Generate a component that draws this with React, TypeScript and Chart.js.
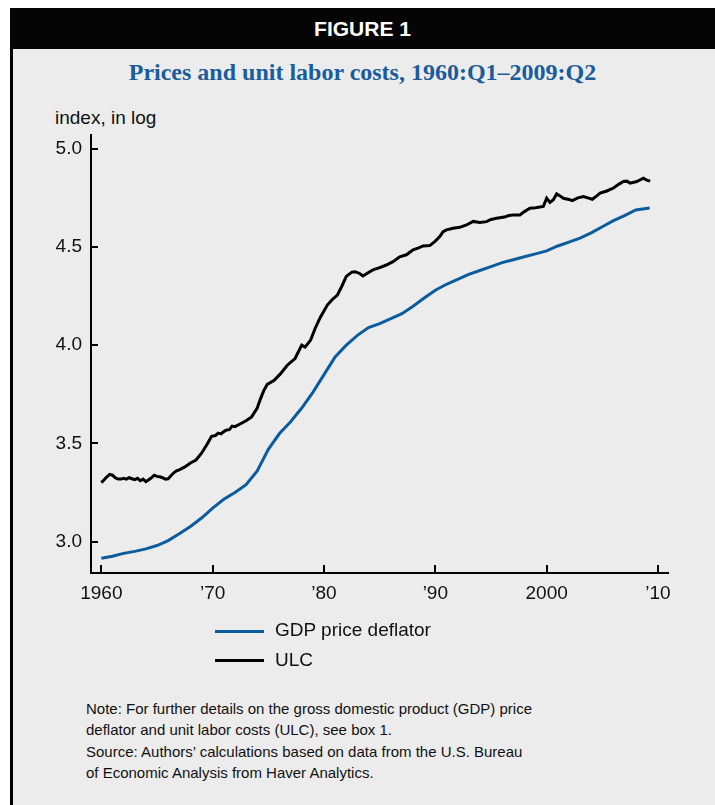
import React, { useEffect, useRef } from "react";
import { Chart, registerables } from "chart.js";

Chart.register(...registerables);

// ---- data ----
const gdpYears = [
  1960, 1961, 1962, 1963, 1964, 1965, 1966, 1967, 1968, 1969,
  1970, 1971, 1972, 1973, 1974, 1975, 1976, 1977, 1978, 1979,
  1980, 1981, 1982, 1983, 1984, 1985, 1986, 1987, 1988, 1989,
  1990, 1991, 1992, 1993, 1994, 1995, 1996, 1997, 1998, 1999,
  2000, 2001, 2002, 2003, 2004, 2005, 2006, 2007, 2008, 2009.25,
];
const gdpValues = [
  2.915, 2.925, 2.94, 2.95, 2.963, 2.98, 3.005, 3.04, 3.077, 3.12,
  3.17, 3.215, 3.25, 3.29, 3.36, 3.47, 3.55, 3.61, 3.68, 3.76,
  3.85, 3.94, 4.0, 4.05, 4.09, 4.11, 4.135, 4.16, 4.198, 4.24,
  4.28, 4.31, 4.335, 4.36, 4.38, 4.4, 4.42, 4.435, 4.45, 4.465,
  4.48, 4.505, 4.525, 4.545, 4.572, 4.603, 4.634, 4.66, 4.688, 4.698,
];

const ulcYears = [
  1960.0, 1960.25, 1960.5, 1960.75, 1961.0, 1961.25, 1961.5, 1961.75, 1962.0, 1962.25,
  1962.5, 1962.75, 1963.0, 1963.25, 1963.5, 1963.75, 1964.0, 1964.25, 1964.5, 1964.75,
  1965.0, 1965.25, 1965.5, 1965.75, 1966.0, 1966.25, 1966.5, 1966.75, 1967.0, 1967.5,
  1968.0, 1968.5, 1969.0, 1969.5, 1969.9, 1970.25, 1970.5, 1970.75, 1971.0, 1971.25,
  1971.5, 1971.75, 1972.0, 1972.5, 1973.0, 1973.5, 1974.0, 1974.3, 1974.6, 1974.9,
  1975.5, 1976.1, 1976.7, 1977.4, 1978.0, 1978.3, 1978.8, 1979.2, 1979.7, 1980.3,
  1980.7, 1981.2, 1981.6, 1982.0, 1982.5, 1982.8, 1983.2, 1983.5, 1984.0, 1984.4,
  1985.0, 1985.6, 1986.2, 1986.8, 1987.4, 1988.0, 1988.5, 1988.9, 1989.5, 1990.0,
  1990.4, 1990.7, 1991.0, 1991.6, 1992.2, 1992.8, 1993.4, 1994.0, 1994.6, 1995.0,
  1995.5, 1996.2, 1996.6, 1997.0, 1997.6, 1998.0, 1998.5, 1999.0, 1999.7, 2000.0,
  2000.3, 2000.6, 2000.9, 2001.2, 2001.5, 2002.0, 2002.3, 2002.8, 2003.3, 2003.7,
  2004.1, 2004.5, 2004.8, 2005.4, 2006.0, 2006.5, 2006.9, 2007.2, 2007.5, 2008.1,
  2008.4, 2008.7, 2009.0, 2009.3,
];
const ulcValues = [
  3.3, 3.315, 3.33, 3.342, 3.338, 3.325, 3.318, 3.318, 3.322, 3.318,
  3.325, 3.32, 3.315, 3.322, 3.31, 3.318, 3.305, 3.315, 3.325, 3.338,
  3.332, 3.33, 3.325, 3.318, 3.32, 3.335, 3.35, 3.36, 3.365, 3.38,
  3.4, 3.415, 3.45, 3.495, 3.536, 3.54, 3.552, 3.548, 3.56, 3.568,
  3.57, 3.588, 3.585, 3.6, 3.615, 3.635, 3.68, 3.728, 3.77, 3.8,
  3.82, 3.855, 3.898, 3.932, 4.0, 3.99, 4.026, 4.085, 4.145, 4.204,
  4.23, 4.255, 4.3, 4.35, 4.372, 4.374, 4.365, 4.352, 4.37, 4.383,
  4.395, 4.408, 4.425, 4.45, 4.46, 4.485, 4.495, 4.505, 4.507, 4.53,
  4.553, 4.578, 4.587, 4.595, 4.6, 4.612, 4.63, 4.625, 4.629, 4.64,
  4.646, 4.652, 4.66, 4.663, 4.663, 4.68, 4.697, 4.7, 4.706, 4.748,
  4.727, 4.74, 4.77, 4.76, 4.748, 4.742, 4.736, 4.75, 4.757, 4.75,
  4.743, 4.76, 4.774, 4.785, 4.8, 4.82, 4.833, 4.835, 4.825, 4.833,
  4.842, 4.85, 4.84, 4.835,
];

const xTickValues = [1960, 1970, 1980, 1990, 2000, 2010];
const xTickLabels = ["1960", "\u201970", "\u201980", "\u201990", "2000", "\u201910"];
const yTickValues = [3.0, 3.5, 4.0, 4.5, 5.0];
const yTickLabels = ["3.0", "3.5", "4.0", "4.5", "5.0"];
const seriesLabels = ["GDP price deflator", "ULC"];
const seriesColors = ["#0b5c9e", "#000000"];

const SANS = '"Liberation Sans", Arial, Helvetica, sans-serif';
const SERIF = '"Liberation Serif", "Times New Roman", serif';

const innerTicks = {
  id: "innerTicks",
  afterDraw(chart: any) {
    const { ctx, chartArea, scales } = chart;
    ctx.save();
    ctx.strokeStyle = "#000";
    ctx.lineWidth = 2;
    scales.y.ticks.forEach((t: any) => {
      const py = Math.round(scales.y.getPixelForValue(t.value));
      ctx.beginPath();
      ctx.moveTo(chartArea.left, py);
      ctx.lineTo(chartArea.left + 7, py);
      ctx.stroke();
    });
    scales.x.ticks.forEach((t: any) => {
      const px = Math.round(scales.x.getPixelForValue(t.value));
      ctx.beginPath();
      ctx.moveTo(px, chartArea.bottom);
      ctx.lineTo(px, chartArea.bottom - 8);
      ctx.stroke();
    });
    ctx.restore();
  },
};

function ChartCanvas() {
  const ref = useRef<HTMLCanvasElement | null>(null);
  useEffect(() => {
    if (!ref.current) return;
    const chart = new Chart(ref.current, {
      type: "line",
      data: {
        datasets: [
          {
            label: seriesLabels[0],
            data: gdpYears.map((x, i) => ({ x, y: gdpValues[i] })),
            borderColor: seriesColors[0],
            borderWidth: 3,
            pointRadius: 0,
            tension: 0,
            fill: false,
          },
          {
            label: seriesLabels[1],
            data: ulcYears.map((x, i) => ({ x, y: ulcValues[i] })),
            borderColor: seriesColors[1],
            borderWidth: 3,
            pointRadius: 0,
            tension: 0,
            fill: false,
          },
        ],
      },
      options: {
        animation: false,
        responsive: false,
        devicePixelRatio: 1,
        layout: { padding: { top: 15, right: 47, left: 0, bottom: 0 } },
        plugins: { legend: { display: false }, tooltip: { enabled: false } },
        scales: {
          x: {
            type: "linear",
            min: 1959.07,
            max: 2010.9,
            afterBuildTicks: (s: any) => {
              s.ticks = xTickValues.map((v) => ({ value: v }));
            },
            afterFit: (s: any) => {
              s.height = 47;
              s.paddingLeft = 0;
              s.paddingRight = 0;
            },
            grid: { display: false, drawTicks: false },
            border: { display: true, color: "#000", width: 2 },
            ticks: {
              autoSkip: false,
              maxRotation: 0,
              padding: 9,
              color: "#111",
              font: { family: SANS, size: 19 },
              callback: (_v: any, i: number) => xTickLabels[i],
            },
          },
          y: {
            type: "linear",
            min: 2.84,
            max: 5.07,
            afterBuildTicks: (s: any) => {
              s.ticks = yTickValues.map((v) => ({ value: v }));
            },
            afterFit: (s: any) => {
              s.width = 78;
              s.paddingTop = 0;
              s.paddingBottom = 0;
            },
            grid: { display: false, drawTicks: false },
            border: { display: true, color: "#000", width: 2 },
            ticks: {
              autoSkip: false,
              padding: 9,
              color: "#111",
              font: { family: SANS, size: 19 },
              callback: (_v: any, i: number) => yTickLabels[i],
            },
          },
        },
      },
      plugins: [innerTicks],
    } as any);
    return () => chart.destroy();
  }, []);
  return (
    <canvas
      ref={ref}
      width={702}
      height={500}
      style={{ position: "absolute", left: 13, top: 120, width: 702, height: 500 }}
    />
  );
}

export default function App() {
  const abs = (s: any) => ({ position: "absolute" as const, ...s });
  return (
    <div style={abs({ left: 0, top: 0, width: 715, height: 805, overflow: "hidden" })}>
      <div style={abs({ left: 10, top: 8, width: 705, height: 797, background: "#ececec" })} />
      <div style={abs({ left: 10, top: 8, width: 3, height: 797, background: "#000" })} />
      <div
        style={abs({
          left: 10,
          top: 8,
          width: 705,
          height: 41,
          background: "#050505",
          color: "#fff",
          fontFamily: SANS,
          fontWeight: 700,
          fontSize: 21,
          lineHeight: "41px",
          textAlign: "center",
        })}
      >
        FIGURE 1
      </div>
      <div
        style={abs({
          left: 10,
          top: 60,
          width: 705,
          textAlign: "center",
          fontFamily: SERIF,
          fontWeight: 700,
          fontSize: 24,
          lineHeight: "24px",
          color: "#1a5c9c",
          whiteSpace: "nowrap",
        })}
      >
        Prices and unit labor costs, 1960:Q1–2009:Q2
      </div>
      <div
        style={abs({
          left: 55,
          top: 108,
          fontFamily: SANS,
          fontSize: 19,
          lineHeight: "19px",
          color: "#111",
          whiteSpace: "nowrap",
        })}
      >
        index, in log
      </div>
      <ChartCanvas />
      {seriesLabels.map((lab, i) => (
        <React.Fragment key={lab}>
          <div
            style={abs({
              left: 215,
              top: 629.5 + i * 29,
              width: 49,
              height: 3,
              background: seriesColors[i],
            })}
          />
          <div
            style={abs({
              left: 275,
              top: 620 + i * 29.7,
              fontFamily: SANS,
              fontSize: 19,
              lineHeight: "19px",
              color: "#111",
              whiteSpace: "nowrap",
            })}
          >
            {lab}
          </div>
        </React.Fragment>
      ))}
      <div
        style={abs({
          left: 86,
          top: 697.5,
          fontFamily: SANS,
          fontSize: 15,
          lineHeight: "21px",
          color: "#111",
          whiteSpace: "nowrap",
        })}
      >
        Note: For further details on the gross domestic product (GDP) price
        <br />
        deflator and unit labor costs (ULC), see box 1.
      </div>
      <div
        style={abs({
          left: 86,
          top: 740.5,
          fontFamily: SANS,
          fontSize: 15,
          lineHeight: "21px",
          color: "#111",
          whiteSpace: "nowrap",
        })}
      >
        Source: Authors’ calculations based on data from the U.S. Bureau
        <br />
        of Economic Analysis from Haver Analytics.
      </div>
    </div>
  );
}
